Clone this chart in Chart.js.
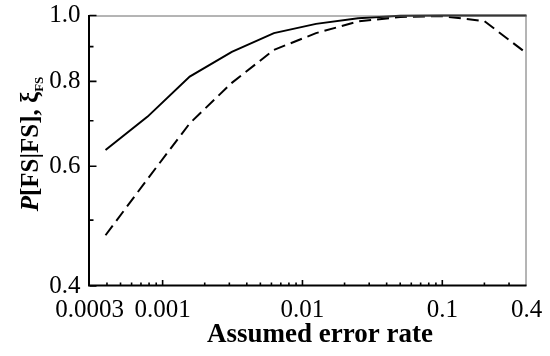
<!DOCTYPE html>
<html>
<head>
<meta charset="utf-8">
<script src="https://cdn.jsdelivr.net/npm/chart.js@4"></script>
<style>
  html, body { margin: 0; padding: 0; background: #fff; }
  canvas { display: block; }
</style>
</head>
<body>
<canvas id="c" width="550" height="356"></canvas>
<script>
// ---- data ----
const errorRates = [0.000390625, 0.00078125, 0.0015625, 0.003125, 0.00625, 0.0125, 0.025, 0.05, 0.1, 0.2, 0.4];
const pFSgivenFS = [0.634, 0.710, 0.813, 0.884, 0.942, 0.972, 0.991, 0.999, 1.0, 1.0, 1.0];
const xiFS       = [0.475, 0.575, 0.694, 0.796, 0.890, 0.942, 0.980, 0.995, 0.998, 0.981, 0.880];

const xTickValues = [0.0003, 0.001, 0.01, 0.1, 0.4];
const xTickLabels = ['0.0003', '0.001', '0.01', '0.1', '0.4'];
const yTickValues = [0.4, 0.6, 0.8, 1.0];
const yTickLabels = ['0.4', '0.6', '0.8', '1.0'];
const yMinorValues = [0.5, 0.7, 0.9];
const xMajorValues = [0.001, 0.01, 0.1];
const xMinorValues = [0.0004,0.0005,0.0006,0.0007,0.0008,0.0009,
                      0.002,0.003,0.004,0.005,0.006,0.007,0.008,0.009,
                      0.02,0.03,0.04,0.05,0.06,0.07,0.08,0.09,
                      0.2,0.3];

const xTitle = 'Assumed error rate';
const yTitleParts = [
  { text: 'P', font: 'italic bold 25px "Liberation Serif"', dy: 0 },
  { text: '[FS|FS], ', font: 'bold 25px "Liberation Serif"', dy: 0 },
  { text: 'ξ', font: 'bold 25px "Liberation Serif"', dy: 0 },
  { text: 'FS', font: 'bold 13px "Liberation Serif"', dy: 5 }
];

const frameAndTicks = {
  id: 'frameAndTicks',
  afterDatasetsDraw(chart) {
    const { ctx, chartArea: a, scales: { x, y } } = chart;
    ctx.save();
    ctx.strokeStyle = '#6a6a6a';
    ctx.lineWidth = 1;
    ctx.beginPath();
    ctx.moveTo(a.left, a.top + 0.5); ctx.lineTo(a.right, a.top + 0.5);
    ctx.moveTo(a.right - 0.5, a.top); ctx.lineTo(a.right - 0.5, a.bottom);
    ctx.stroke();
    ctx.strokeStyle = '#000';
    ctx.lineWidth = 2;
    ctx.beginPath();
    ctx.moveTo(a.left - 0.5, a.top - 0.5); ctx.lineTo(a.left - 0.5, a.bottom);
    ctx.moveTo(a.left - 1.5, a.bottom - 0.5); ctx.lineTo(a.right, a.bottom - 0.5);
    ctx.stroke();
    ctx.beginPath();
    yTickValues.forEach(v => { const p = y.getPixelForValue(v); ctx.moveTo(a.left, p); ctx.lineTo(a.left + 7, p); });
    yMinorValues.forEach(v => { const p = y.getPixelForValue(v); ctx.moveTo(a.left, p); ctx.lineTo(a.left + 4, p); });
    xMajorValues.forEach(v => { const p = x.getPixelForValue(v); ctx.moveTo(p, a.bottom); ctx.lineTo(p, a.bottom - 6); });
    xMinorValues.forEach(v => { const p = x.getPixelForValue(v); ctx.moveTo(p, a.bottom); ctx.lineTo(p, a.bottom - 3.5); });
    ctx.lineWidth = 1.6;
    ctx.stroke();
    ctx.restore();
  },
  afterDraw(chart) {
    const { ctx } = chart;
    ctx.save();
    ctx.fillStyle = '#000';
    ctx.font = 'bold 27px "Liberation Serif"';
    ctx.textAlign = 'center';
    ctx.textBaseline = 'alphabetic';
    ctx.fillText(xTitle, 320, 342);
    ctx.textAlign = 'left';
    let total = 0;
    yTitleParts.forEach(p => { ctx.font = p.font; p.w = ctx.measureText(p.text).width; total += p.w; });
    ctx.translate(38, 144);
    ctx.rotate(-Math.PI / 2);
    let cx = -total / 2;
    yTitleParts.forEach(p => { ctx.font = p.font; ctx.fillText(p.text, cx, p.dy); cx += p.w; });
    ctx.restore();
  }
};

new Chart(document.getElementById('c'), {
  type: 'line',
  data: {
    labels: errorRates,
    datasets: [
      { label: 'P[FS|FS]', data: errorRates.map((r, i) => ({ x: r, y: pFSgivenFS[i] })),
        borderColor: '#000', borderWidth: 2, pointRadius: 0, tension: 0, fill: false, clip: false },
      { label: 'ξFS', data: errorRates.map((r, i) => ({ x: r, y: xiFS[i] })),
        borderColor: '#000', borderWidth: 2, borderDash: [12, 6], pointRadius: 0, tension: 0, fill: false, clip: false }
    ]
  },
  options: {
    responsive: false,
    animation: false,
    devicePixelRatio: 1,
    layout: { padding: { left: 0, top: 15.5, right: 23.5, bottom: 0 } },
    plugins: { legend: { display: false }, tooltip: { enabled: false }, title: { display: false } },
    scales: {
      x: {
        type: 'logarithmic', min: 0.0003, max: 0.4,
        grid: { display: false, drawTicks: false },
        border: { display: false },
        afterBuildTicks: s => { s.ticks = xTickValues.map(v => ({ value: v })); },
        afterFit: s => { s.height = 70; s.paddingLeft = 0; s.paddingRight = 0; },
        ticks: {
          autoSkip: false, maxRotation: 0, padding: 9, color: '#000',
          font: { family: '"Liberation Serif"', size: 25 },
          callback: v => xTickLabels[xTickValues.indexOf(v)]
        }
      },
      y: {
        type: 'logarithmic', min: 0.4, max: 1.0,
        grid: { display: false, drawTicks: false },
        border: { display: false },
        afterBuildTicks: s => { s.ticks = yTickValues.map(v => ({ value: v })); },
        afterFit: s => { s.width = 89.5; s.paddingTop = 0; s.paddingBottom = 0; },
        ticks: {
          autoSkip: false, padding: 9, color: '#000',
          font: { family: '"Liberation Serif"', size: 25 },
          callback: v => yTickLabels[yTickValues.indexOf(v)]
        }
      }
    }
  },
  plugins: [frameAndTicks]
});
</script>
</body>
</html>
